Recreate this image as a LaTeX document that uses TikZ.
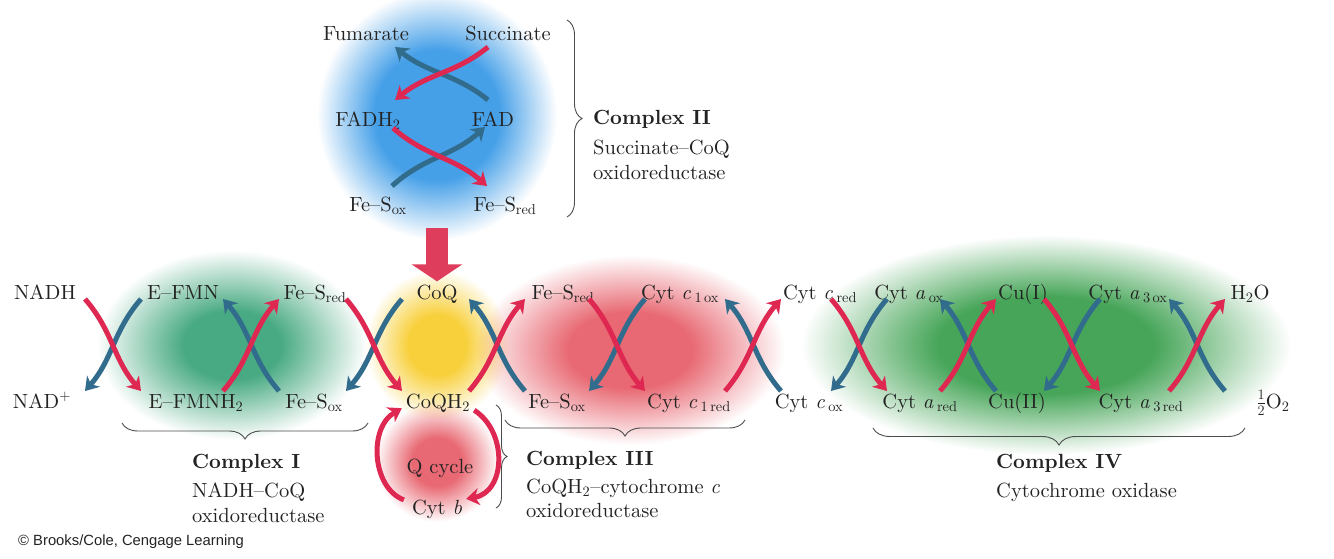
\documentclass[tikz,border=0pt]{standalone}
\usepackage{fontspec}
\setmainfont{lmroman10-regular}[Extension=.otf, BoldFont=lmroman10-bold, ItalicFont=lmroman10-italic, BoldItalicFont=lmroman10-bolditalic]
\newfontfamily\cpfont{Liberation Sans}
\usetikzlibrary{arrows.meta,calc,decorations.pathreplacing}
\definecolor{rarr}{RGB}{222,40,82}
\definecolor{barr}{RGB}{50,108,140}
\definecolor{txt}{RGB}{35,35,35}
\definecolor{gblue}{RGB}{70,160,232}
\definecolor{gteal}{RGB}{72,170,130}
\definecolor{gyel}{RGB}{248,208,60}
\definecolor{gred}{RGB}{232,105,115}
\definecolor{ggreen}{RGB}{70,165,88}
\definecolor{bigred}{RGB}{222,62,92}
\pgfdeclareradialshading{glowblue}{\pgfpointorigin}{color(0bp)=(gblue); color(13bp)=(gblue); color(25bp)=(white); color(50bp)=(white)}
\pgfdeclareradialshading{glowteal}{\pgfpointorigin}{color(0bp)=(gteal); color(9bp)=(gteal); color(25bp)=(white); color(50bp)=(white)}
\pgfdeclareradialshading{glowyel}{\pgfpointorigin}{color(0bp)=(gyel); color(10bp)=(gyel); color(25bp)=(white); color(50bp)=(white)}
\pgfdeclareradialshading{glowred}{\pgfpointorigin}{color(0bp)=(gred); color(10bp)=(gred); color(25bp)=(white); color(50bp)=(white)}
\pgfdeclareradialshading{glowgreen}{\pgfpointorigin}{color(0bp)=(ggreen); color(11bp)=(ggreen); color(25bp)=(white); color(50bp)=(white)}
\newcommand{\lblfont}{\fontsize{20.5}{24}\selectfont}
\newcommand{\varr}[3]{\draw[#1] let \p1=(#2), \p2=(#3) in (\p1) .. controls ({(\x1+\x2)/2},{\y1+0.35*(\y2-\y1)}) and ({(\x1+\x2)/2},{\y1+0.65*(\y2-\y1)}) .. (\p2);}
\newcommand{\harr}[3]{\draw[#1] let \p1=(#2), \p2=(#3) in (\p1) .. controls ({\x1+0.35*(\x2-\x1)},{(\y1+\y2)/2}) and ({\x1+0.65*(\x2-\x1)},{(\y1+\y2)/2}) .. (\p2);}
\begin{document}
\begin{tikzpicture}[x=1pt,y=-1pt,
  lbl/.style={inner sep=0pt, anchor=base, text=txt, font=\lblfont},
  lblw/.style={inner sep=0pt, anchor=base west, text=txt, font=\lblfont},
  ttl/.style={inner sep=0pt, anchor=base west, text=txt, font=\lblfont\bfseries},
  ra/.style={draw=rarr, line width=5pt, -{Stealth[length=13pt,width=17pt,inset=4pt]}},
  ba/.style={draw=barr, line width=5pt, -{Stealth[length=13pt,width=17pt,inset=4pt]}},
  brc/.style={decorate, decoration={brace,amplitude=#1}, draw=black!70, line width=0.9pt},
  glow/.style={blend mode=multiply}]
\useasboundingbox (0,0) rectangle (1334,558);
% glows
\shade[glow, shading=glowblue] (437,115) ellipse [x radius=120, y radius=125];
\shade[glow, shading=glowteal] (232,345) ellipse [x radius=135, y radius=95];
\shade[glow, shading=glowyel] (437,345) ellipse [x radius=72, y radius=75];
\shade[glow, shading=glowred] (630,350) ellipse [x radius=155, y radius=95];
\shade[glow, shading=glowgreen] (1046,345) ellipse [x radius=245, y radius=110];
\shade[glow, shading=glowred] (437,462) ellipse [x radius=62, y radius=60];
% Complex II labels
\node[lbl] (fum) at (366,40) {Fumarate};
\node[lbl] (suc) at (508,40) {Succinate};
\node[lbl] (fadh) at (368,126) {FADH\textsubscript{2}};
\node[lbl] (fad) at (493,126) {FAD};
\node[lbl] (fesoxII) at (378,211) {Fe--S\textsubscript{ox}};
\node[lbl] (fesredII) at (505,211) {Fe--S\textsubscript{red}};
% top row
\node[lbl] (nadh) at (45,299) {NADH};
\node[lbl] (efmn) at (183,299) {E--FMN};
\node[lbl] (fesredI) at (315,299) {Fe--S\textsubscript{red}};
\node[lbl] (coq) at (437,299) {CoQ};
\node[lbl] (fesredIII) at (563,299) {Fe--S\textsubscript{red}};
\node[lbl] (cyt1ox) at (680,299) {Cyt \textit{c}\,\textsubscript{1\,ox}};
\node[lbl] (cytcred) at (820,299) {Cyt \textit{c}\,\textsubscript{red}};
\node[lbl] (cytaox) at (909,299) {Cyt \textit{a}\,\textsubscript{ox}};
\node[lbl] (cuI) at (1023,299) {Cu(I)};
\node[lbl] (cyta3ox) at (1128,299) {Cyt \textit{a}\,\textsubscript{3\,ox}};
\node[lbl] (h2o) at (1250,299) {H\textsubscript{2}O};
% bottom row
\node[lbl] (nad) at (42,408) {NAD\textsuperscript{+}};
\node[lbl] (efmnh) at (196,408) {E--FMNH\textsubscript{2}};
\node[lbl] (fesoxI) at (314,408) {Fe--S\textsubscript{ox}};
\node[lbl] (coqh) at (438,408) {CoQH\textsubscript{2}};
\node[lbl] (fesoxIII) at (557,408) {Fe--S\textsubscript{ox}};
\node[lbl] (cyt1red) at (689,408) {Cyt \textit{c}\,\textsubscript{1\,red}};
\node[lbl] (cytcox) at (809,408) {Cyt \textit{c}\,\textsubscript{ox}};
\node[lbl] (cytared) at (920,408) {Cyt \textit{a}\,\textsubscript{red}};
\node[lbl] (cuII) at (1017,408) {Cu(II)};
\node[lbl] (cyta3red) at (1141,408) {Cyt \textit{a}\,\textsubscript{3\,red}};
\node[lbl] (o2) at (1273,408) {$\frac{1}{2}$O\textsubscript{2}};
% Q cycle
\node[lbl] (qc) at (440,473) {Q cycle};
\node[lbl] (cytb) at (437,514) {Cyt \textit{b}};
% complex titles
\node[ttl] (tII) at (593,124) {Complex II};
\node[lblw] (dII1) at (593,154) {Succinate--CoQ};
\node[lblw] (dII2) at (593,179) {oxidoreductase};
\node[ttl] (tI) at (192,468) {Complex I};
\node[lblw] (dI1) at (192,497) {NADH--CoQ};
\node[lblw] (dI2) at (192,522) {oxidoreductase};
\node[ttl] (tIII) at (526,465) {Complex III};
\node[lblw] (dIII1) at (526,493) {CoQH\textsubscript{2}--cytochrome \textit{c}};
\node[lblw] (dIII2) at (526,517) {oxidoreductase};
\node[ttl] (tIV) at (996,468) {Complex IV};
\node[lblw] (dIV1) at (996,497) {Cytochrome oxidase};
\node[inner sep=0pt, anchor=base west, text=txt, font=\cpfont\fontsize{14.8}{17}\selectfont] (copy) at (18,545) {© Brooks/Cole, Cengage Learning};
% braces
\draw[brc=15pt] (567,20) -- (567,217);
\draw[brc=16pt] (368,423) -- (122,423);
\draw[brc=16pt] (745,420) -- (505,420);
\draw[brc=17pt] (1245,428) -- (873,428);
\draw[brc=11pt] (496,405) -- (496,508);
% crossing centres
\coordinate (xK) at (442,73);
\coordinate (xL) at (440,157);
\coordinate (xA) at (113,345);
\coordinate (xB) at (251,345);
\coordinate (xC) at (374,345);
\coordinate (xD) at (497,345);
\coordinate (xE) at (617,345);
\coordinate (xF) at (753,345);
\coordinate (xG) at (859,345);
\coordinate (xH) at (968,345);
\coordinate (xI) at (1072,345);
\coordinate (xJ) at (1197,345);
% Complex II arrows
\harr{ba}{$(xK)+(46,27)$}{$(xK)+(-47,-26)$}
\harr{ra}{$(xK)+(46,-26)$}{$(xK)+(-47,27)$}
\harr{ba}{$(xL)+(-48,29)$}{$(xL)+(45,-30)$}
\harr{ra}{$(xL)+(-47,-29)$}{$(xL)+(47,29)$}
% big arrow into CoQ
\coordinate (bigtop) at (437,228);
\draw[draw=bigred, line width=22pt, -{Triangle[length=17pt,width=50pt]}] (bigtop) -- ($(coq.north)+(0,-3)$);
% main chain arrows
\varr{ba}{$(xA)+(28,-46)$}{$(xA)+(-28,46)$}
\varr{ra}{$(xA)+(-28,-46)$}{$(xA)+(28,46)$}
\varr{ba}{$(xB)+(28,46)$}{$(xB)+(-28,-46)$}
\varr{ra}{$(xB)+(-28,46)$}{$(xB)+(28,-46)$}
\varr{ba}{$(xC)+(28,-46)$}{$(xC)+(-28,46)$}
\varr{ra}{$(xC)+(-28,-46)$}{$(xC)+(28,46)$}
\varr{ba}{$(xD)+(28,46)$}{$(xD)+(-28,-46)$}
\varr{ra}{$(xD)+(-28,46)$}{$(xD)+(28,-46)$}
\varr{ba}{$(xE)+(28,-46)$}{$(xE)+(-28,46)$}
\varr{ra}{$(xE)+(-28,-46)$}{$(xE)+(28,46)$}
\varr{ba}{$(xF)+(28,46)$}{$(xF)+(-28,-46)$}
\varr{ra}{$(xF)+(-28,46)$}{$(xF)+(28,-46)$}
\varr{ba}{$(xG)+(28,-46)$}{$(xG)+(-28,46)$}
\varr{ra}{$(xG)+(-28,-46)$}{$(xG)+(28,46)$}
\varr{ba}{$(xH)+(28,46)$}{$(xH)+(-28,-46)$}
\varr{ra}{$(xH)+(-28,46)$}{$(xH)+(28,-46)$}
\varr{ba}{$(xI)+(28,-46)$}{$(xI)+(-28,46)$}
\varr{ra}{$(xI)+(-28,-46)$}{$(xI)+(28,46)$}
\varr{ba}{$(xJ)+(28,46)$}{$(xJ)+(-28,-46)$}
\varr{ra}{$(xJ)+(-28,46)$}{$(xJ)+(28,-46)$}
% Q cycle arrows
\draw[ra] ([shift={(-8,-9)}]cytb.west) .. controls (372,488) and (368,428) .. ([shift={(-4,-4)}]coqh.south west);
\draw[ra] ([shift={(4,-2)}]coqh.south east) .. controls (508,432) and (506,492) .. ([shift={(4,-10)}]cytb.east);
\end{tikzpicture}
\end{document}
